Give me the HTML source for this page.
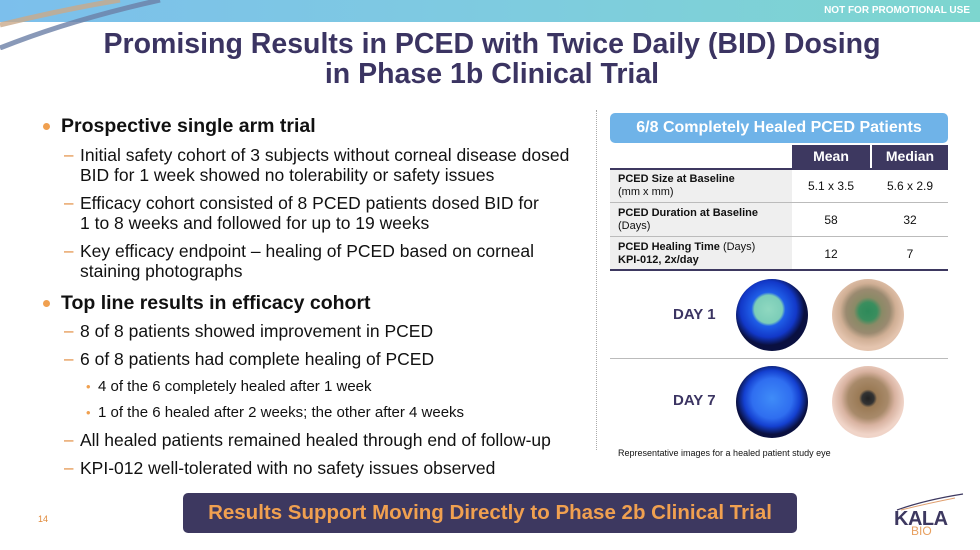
<!DOCTYPE html>
<html><head><meta charset="utf-8"><style>
body{margin:0;width:980px;height:550px;position:relative;overflow:hidden;background:#fff;font-family:"Liberation Sans",Arial,sans-serif}
.abs{position:absolute}
.t{position:absolute;white-space:nowrap;color:#111}
.l1{font-size:19.5px;font-weight:bold;left:61px}
.l2{font-size:17.5px;left:80px}
.l3{font-size:15px;left:98px}
.dot{position:absolute;width:7px;height:7px;border-radius:50%;background:#f0a050}
.dash{position:absolute;font-size:17px;color:#e08a3a;left:64px}
.sdot{position:absolute;font-size:13px;color:#f0a050;left:86px}
</style></head><body>
<div class="abs" style="left:0;top:0;width:980px;height:22px;background:linear-gradient(90deg,#7cbfec,#7ecbe0 50%,#7dd6cf)"></div>
<svg class="abs" style="left:0;top:0" width="170" height="50"><path d="M0 25 Q60 10 120 0" stroke="#c9a98a" stroke-width="5" fill="none" opacity=".8"/><path d="M0 48 Q70 20 160 0" stroke="#6b7fa6" stroke-width="5" fill="none" opacity=".8"/></svg>
<div class="t" style="right:10px;top:5px;font-size:10px;font-weight:bold;color:#fff">NOT FOR PROMOTIONAL USE</div>
<div class="t" style="left:92px;width:800px;top:29px;text-align:center;font-size:28.5px;font-weight:bold;color:#3b3462;line-height:30px">Promising Results in PCED with Twice Daily (BID) Dosing<br>in Phase 1b Clinical Trial</div>

<div>
<div class="dot" style="left:43px;top:123px"></div>
<div class="t l1" style="top:115px">Prospective single arm trial</div>
<div class="dash" style="top:145px">–</div><div class="t l2" style="top:145px;line-height:20px">Initial safety cohort of 3 subjects without corneal disease dosed<br>BID for 1 week showed no tolerability or safety issues</div>
<div class="dash" style="top:193px">–</div><div class="t l2" style="top:193px;line-height:20px">Efficacy cohort consisted of 8 PCED patients dosed BID for<br>1 to 8 weeks and followed for up to 19 weeks</div>
<div class="dash" style="top:241px">–</div><div class="t l2" style="top:241px;line-height:20px">Key efficacy endpoint – healing of PCED based on corneal<br>staining photographs</div>
<div class="dot" style="left:43px;top:300px"></div>
<div class="t l1" style="top:292px">Top line results in efficacy cohort</div>
<div class="dash" style="top:321px">–</div><div class="t l2" style="top:321px">8 of 8 patients showed improvement in PCED</div>
<div class="dash" style="top:349px">–</div><div class="t l2" style="top:349px">6 of 8 patients had complete healing of PCED</div>
<div class="sdot" style="top:379px">•</div><div class="t l3" style="top:378px">4 of the 6 completely healed after 1 week</div>
<div class="sdot" style="top:405px">•</div><div class="t l3" style="top:404px">1 of the 6 healed after 2 weeks; the other after 4 weeks</div>
<div class="dash" style="top:430px">–</div><div class="t l2" style="top:430px">All healed patients remained healed through end of follow-up</div>
<div class="dash" style="top:458px">–</div><div class="t l2" style="top:458px">KPI-012 well-tolerated with no safety issues observed</div>
</div>

<div class="abs" style="left:596px;top:110px;height:340px;border-left:1px dotted #aaa"></div>

<div class="abs" style="left:610px;top:113px;width:338px;height:30px;background:#6fb3e8;border-radius:5px;color:#fff;font-weight:bold;font-size:16px;text-align:center;line-height:30px">6/8 Completely Healed PCED Patients</div>
<div class="abs" style="left:792px;top:145px;width:78px;height:23px;background:#3d3860;color:#fff;font-weight:bold;font-size:14px;text-align:center;line-height:23px">Mean</div>
<div class="abs" style="left:872px;top:145px;width:76px;height:23px;background:#3d3860;color:#fff;font-weight:bold;font-size:14px;text-align:center;line-height:23px">Median</div>
<div class="abs" style="left:610px;top:168px;width:338px;height:2px;background:#3d3860"></div>
<div>
<div class="abs" style="left:610px;top:170px;width:182px;height:100px;background:#efefef"></div>
<div class="abs" style="left:610px;top:202px;width:338px;height:1px;background:#bbb"></div>
<div class="abs" style="left:610px;top:236px;width:338px;height:1px;background:#bbb"></div>
<div class="abs" style="left:610px;top:269px;width:338px;height:2px;background:#3d3860"></div>
<div class="t" style="left:618px;top:173px;font-size:11px;line-height:13px"><b>PCED Size at Baseline</b><br>(mm x mm)</div>
<div class="t" style="left:618px;top:207px;font-size:11px;line-height:13px"><b>PCED Duration at Baseline</b><br>(Days)</div>
<div class="t" style="left:618px;top:241px;font-size:11px;line-height:13px"><b>PCED Healing Time</b> (Days)<br><b>KPI-012, 2x/day</b></div>
<div class="t" style="left:792px;width:78px;text-align:center;top:179px;font-size:12px">5.1 x 3.5</div>
<div class="t" style="left:872px;width:76px;text-align:center;top:179px;font-size:12px">5.6 x 2.9</div>
<div class="t" style="left:792px;width:78px;text-align:center;top:213px;font-size:12px">58</div>
<div class="t" style="left:872px;width:76px;text-align:center;top:213px;font-size:12px">32</div>
<div class="t" style="left:792px;width:78px;text-align:center;top:247px;font-size:12px">12</div>
<div class="t" style="left:872px;width:76px;text-align:center;top:247px;font-size:12px">7</div>
</div>

<div class="t" style="left:673px;top:306px;font-size:15px;font-weight:bold;color:#3b3462">DAY 1</div>
<div class="abs" style="left:736px;top:279px;width:72px;height:72px;border-radius:50%;background:radial-gradient(circle at 45% 42%,#8fd8c0 0,#7ccdb8 14px,#1f5ee8 17px,#1238c8 28px,#0a1040 36px)"></div>
<div class="abs" style="left:832px;top:279px;width:72px;height:72px;border-radius:50%;background:radial-gradient(circle at 50% 45%,#2e8a5a 0,#3a8e5e 9px,#8a8a66 14px,#9a8a70 22px,#cfae94 28px,#e4c4ae 36px)"></div>
<div class="abs" style="left:610px;top:358px;width:338px;height:1px;background:#bbb"></div>
<div class="t" style="left:673px;top:392px;font-size:15px;font-weight:bold;color:#3b3462">DAY 7</div>
<div class="abs" style="left:736px;top:366px;width:72px;height:72px;border-radius:50%;background:radial-gradient(circle at 50% 45%,#3f8cf8 0,#2f6ef0 20px,#1440d0 28px,#0a1040 36px)"></div>
<div class="abs" style="left:832px;top:366px;width:72px;height:72px;border-radius:50%;background:radial-gradient(circle at 50% 45%,#222 0,#333 6px,#9a7a55 9px,#a88a6a 20px,#d8b2a0 27px,#f0d4c8 36px)"></div>
<div class="t" style="left:618px;top:448px;font-size:9px">Representative images for a healed patient study eye</div>

<div class="abs" style="left:183px;top:493px;width:614px;height:40px;background:#3d3860;border-radius:5px;color:#f0a050;font-weight:bold;font-size:20.5px;text-align:center;line-height:40px">Results Support Moving Directly to Phase 2b Clinical Trial</div>
<div class="t" style="left:38px;top:514px;font-size:9px;color:#e08a3a">14</div>
<svg class="abs" style="left:895px;top:492px" width="70" height="20"><path d="M2 18 Q30 8 68 2" stroke="#3d3860" stroke-width="1.2" fill="none"/><path d="M6 18 Q30 12 60 6" stroke="#e0a070" stroke-width="1" fill="none"/></svg>
<div class="t" style="left:894px;top:508px;font-size:20px;font-weight:bold;color:#3d3860;letter-spacing:-0.5px">KALA</div>
<div class="t" style="left:911px;top:524px;font-size:12px;color:#e8a060">BIO</div>
</body></html>
